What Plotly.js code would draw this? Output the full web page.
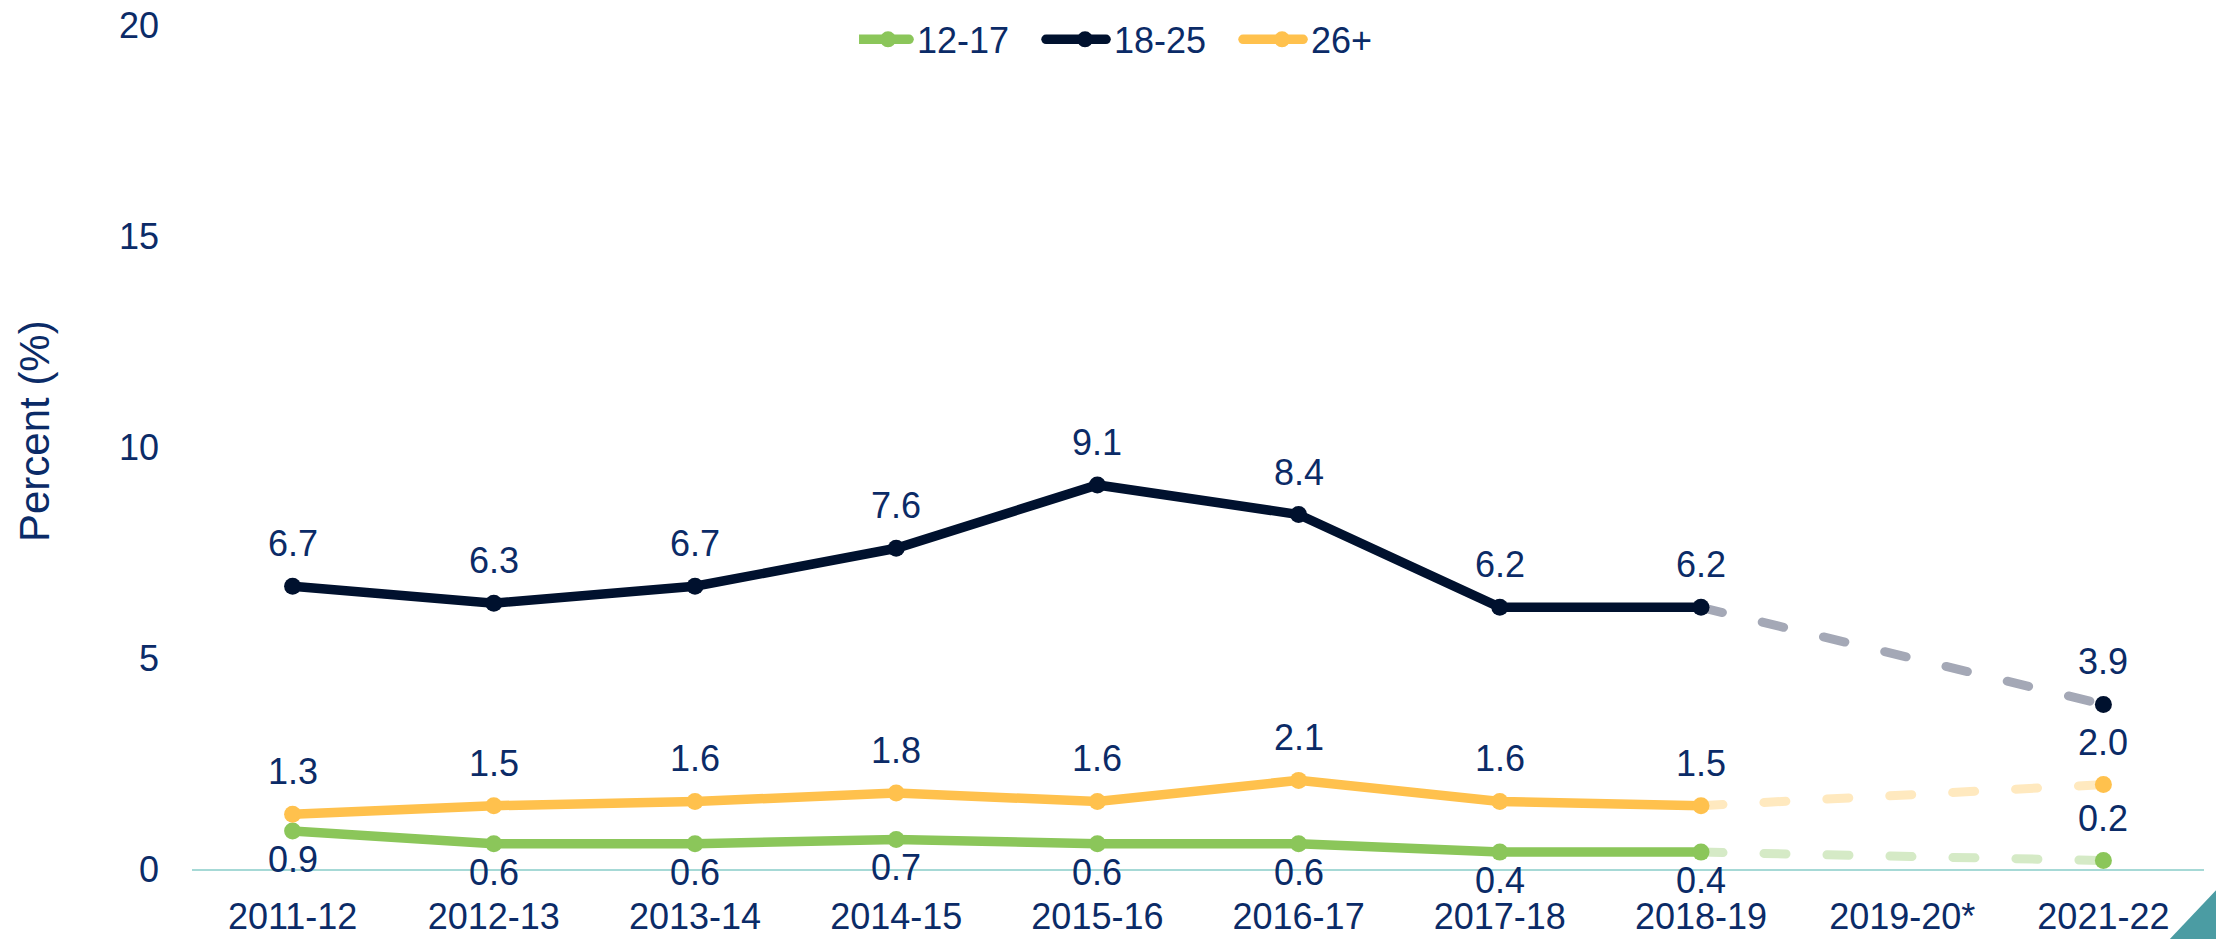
<!DOCTYPE html>
<html>
<head>
<meta charset="utf-8">
<script src="https://cdn.plot.ly/plotly-3.0.1.min.js"></script>
<style>
html,body{margin:0;padding:0;background:#fff;}
#chart{width:2216px;height:939px;}
.scatterlayer .js-line{stroke-linecap:round !important;}
.legend .js-line{stroke-linecap:round !important;}
</style>
</head>
<body>
<div id="chart"></div>
<script>
const years = ["2011-12","2012-13","2013-14","2014-15","2015-16","2016-17","2017-18","2018-19","2019-20*","2021-22"];
const seriesNames = ["12-17","18-25","26+"];
const age12to17 = [0.9,0.6,0.6,0.7,0.6,0.6,0.4,0.4,null,0.2];
const age18to25 = [6.7,6.3,6.7,7.6,9.1,8.4,6.2,6.2,null,3.9];
const age26plus = [1.3,1.5,1.6,1.8,1.6,2.1,1.6,1.5,null,2.0];
const yTicks = [0,5,10,15,20];
const yTitle = "Percent (%)";

const mainColors = ["#8bc65a","#00112e","#ffc14d"];
const fadedColors = ["#d5eac6","#a4a8b6","#ffe9bf"];
const textColor = "#0b2b67";
const font = "Arial, 'Liberation Sans', sans-serif";
const allSeries = [age12to17, age18to25, age26plus];
// label placement: 12-17 below points except the last one
const labelBelow = [[true,true,true,true,true,true,true,true,false,false],
                    Array(10).fill(false), Array(10).fill(false)];

const traces = [];
// dashed connector (2018-19 -> 2021-22)
allSeries.forEach((s,i)=>{
  traces.push({
    x: [years[7], years[9]], y: [s[7], s[9]], type:'scatter', mode:'lines',
    line:{color:fadedColors[i], width:9, dash:'22px,41px'},
    showlegend:false, hoverinfo:'skip'
  });
});
allSeries.forEach((s,i)=>{
  traces.push({
    x: years, y: s, name: seriesNames[i], type:'scatter', mode:'lines+markers',
    connectgaps:false,
    line:{color:mainColors[i], width:9.5},
    marker:{color:mainColors[i], size:17},
    cliponaxis:false
  });
});

const annotations = [];
allSeries.forEach((s,i)=>{
  s.forEach((v,j)=>{
    if (v===null) return;
    const below = labelBelow[i][j];
    annotations.push({
      x: years[j], y: v, xref:'x', yref:'y', text: v.toFixed(1), showarrow:false,
      font:{family:font, size:36, color:textColor},
      yanchor: below ? 'top' : 'bottom',
      yshift: below ? -6 : 20
    });
  });
});
annotations.push({
  xref:'paper', yref:'paper', x:-0.078, y:0.519, xanchor:'center', yanchor:'middle',
  text:yTitle, textangle:-90, showarrow:false,
  font:{family:font, size:42, color:textColor}
});

const layout = {
  width:2216, height:939,
  margin:{l:192, r:12, t:25, b:70, autoexpand:false},
  paper_bgcolor:'#ffffff', plot_bgcolor:'#ffffff',
  font:{family:font, size:36, color:textColor},
  showlegend:true,
  legend:{orientation:'h', xref:'container', yref:'container', x:0.521, xanchor:'center', y:0.958, yanchor:'middle',
          font:{family:font, size:36, color:textColor}, bgcolor:'rgba(0,0,0,0)', traceorder:'normal',
          entrywidth:134, entrywidthmode:'pixels', itemwidth:48},
  xaxis:{type:'category', categoryorder:'array', categoryarray:years, range:[-0.5,9.5],
         showgrid:false, zeroline:false, showline:true, linecolor:'#a6d9d6', linewidth:2,
         ticks:'', tickfont:{family:font, size:36, color:textColor}, ticklabelstandoff:15, fixedrange:true},
  yaxis:{range:[0,20], tickvals:yTicks, ticktext:yTicks.map(String), showgrid:false, zeroline:false, showline:false,
         ticks:'', tickfont:{family:font, size:36, color:textColor}, ticklabelstandoff:32},
  annotations: annotations,
  shapes:[{type:'path', xref:'paper', yref:'paper',
           path:'M 0.983 -0.083 L 1.006 -0.083 L 1.006 -0.025 Z',
           fillcolor:'#4b9ca3', line:{width:0}}]
};

Plotly.newPlot('chart', traces, layout, {displayModeBar:false, staticPlot:true}).then(gd => {
  // longer legend line symbols, centred on the marker
  gd.querySelectorAll('.legend .legendlines path').forEach(p => p.setAttribute('d','M-10,0h60'));
});
</script>
</body>
</html>
